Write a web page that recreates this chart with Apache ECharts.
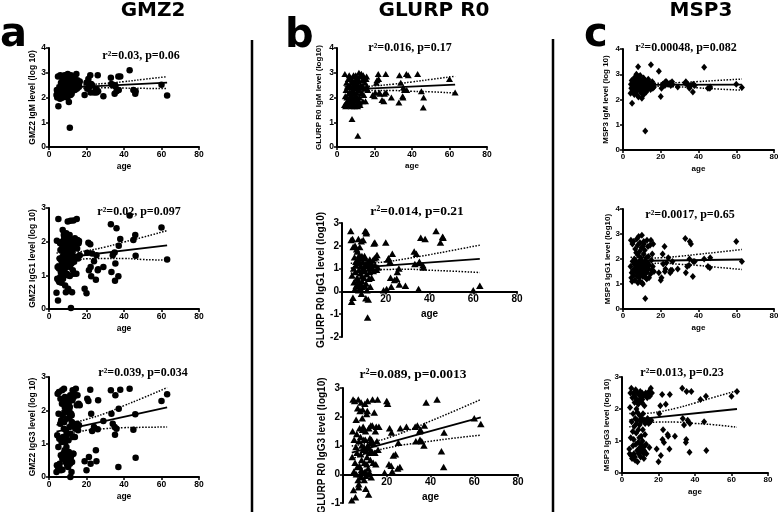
<!DOCTYPE html>
<html><head><meta charset="utf-8">
<script src="https://cdn.jsdelivr.net/npm/echarts@6.0.0/dist/echarts.min.js"></script>
<style>html,body{margin:0;padding:0;background:#fff}#c{width:778px;height:512px}</style>
</head><body><div id="c"></div>
<script>
// ---------------- data ----------------
const ages = [
  4,4.2,4.4,4.6,4.8,5,5.1,5.3,5.5,5.7,5.9,6,6.1,6.3,6.5,6.7,6.9,6.4,
  7,7.1,7.3,7.5,7.6,7.8,7.9,7.2, 8,8.1,8.3,8.4,8.6,8.8,8.2,8.5,8.9, 9,9.1,9.3,9.5,9.7,9.8,9.2,9.6,
  10,10.1,10.3,10.4,10.6,10.8,10.9,10.2,10.5, 11,11.2,11.3,11.5,11.7,11.8,11.4,11.1, 12,12.2,12.3,12.5,12.7,12.9,12.1,12.6,
  13,13.2,13.5,13.8,13.4,14,14.3,14.6,14.8,15,15.2,15.5,15.8,16,16.4,
  19,20,20.4,21,21.3,22,22.2,22.5,23,24,25,25.3,26,26.2,
  29,33,33.3,34,35,35.2,35.4,36,37,37.2,38,
  43,45,46,46.2,60,63
];
const gmz2IgM = [
  2.1,2.3,2.0,2.2,2.85,1.65,2.05,2.25,2.4,2.15,1.95,2.9,2.2,2.5,2.1,2.35,2.0,2.6,
  2.4,2.7,2.2,2.55,2.1,2.8,2.35,2.0,2.6,2.45,2.9,2.25,2.75,2.5,2.1,2.65,2.3,2.85,2.4,2.55,2.2,2.7,2.0,2.6,2.35,
  2.95,2.5,2.3,2.7,1.82,2.6,2.4,2.85,2.2,2.55,2.75,2.45,2.1,2.9,2.35,2.65,0.78,2.5,2.8,2.3,2.6,2.45,2.7,2.15,2.55,
  2.6,2.4,2.75,2.3,2.5,2.65,2.45,2.95,2.35,2.55,2.7,2.4,2.6,2.5,2.65,
  2.1,2.6,2.35,2.75,2.4,2.9,2.2,2.55,2.5,2.2,2.35,2.2,2.9,2.25,
  2.05,2.8,2.55,2.5,2.15,2.5,2.45,2.25,2.85,2.3,2.85,
  3.1,2.3,2.15,2.25,2.52,2.08
];
const gmz2IgG1 = [
  0.48,2.03,0.9,1.25,0.25,2.67,0.85,1.2,0.8,1.5,1.95,0.95,1.75,1.1,1.45,0.78,2.0,1.3,
  1.9,1.4,2.35,0.9,1.7,1.15,2.2,1.55,1.0,2.1,1.3,1.85,0.7,1.6,2.05,1.2,1.45,0.5,2.15,1.75,1.05,1.9,1.35,2.25,1.6,
  2.6,1.0,1.8,0.55,2.1,1.4,1.95,0.6,1.55,2.2,1.25,1.7,2.62,0.03,1.5,2.05,0.98,1.35,1.85,0.5,1.6,1.15,2.0,1.45,1.75,
  2.63,1.05,1.9,2.1,1.4,2.0,1.55,1.05,2.67,1.8,2.05,1.5,1.95,2.02,1.6,
  0.6,0.47,1.67,1.97,1.15,1.92,1.25,0.97,1.65,1.42,0.87,1.6,1.15,1.18,
  1.25,2.52,1.1,1.6,1.68,0.84,1.35,2.4,0.97,1.88,2.08,
  2.78,2.05,2.2,1.58,2.42,1.47
];
const gmz2IgG3 = [
  0.15,0.35,1.25,2.5,0.3,0.9,1.9,2.55,1.15,0.4,0.25,1.6,2.35,0.65,1.7,1.05,2.2,0.2,
  2.6,0.55,1.85,1.2,0.7,2.25,1.45,0.22,2.65,1.65,0.8,2.1,1.05,0.45,1.95,2.4,0.6,1.4,2.3,0.9,1.75,0.35,2.15,1.25,0.65,
  1.95,0.55,2.35,1.1,0.75,2.0,1.5,0.3,2.2,1.8,0.4,2.45,1.3,0.6,1.9,0.0,2.1,0.15,1.65,0.45,2.3,1.2,0.7,1.85,2.6,
  0.7,2.4,1.55,1.2,2.5,1.45,2.65,1.5,2.15,1.6,2.45,1.4,2.2,1.55,2.15,
  0.47,0.2,2.35,2.28,0.6,2.62,0.4,1.9,1.38,1.5,0.8,0.47,1.43,2.3,
  1.68,2.6,1.9,1.6,1.5,1.27,2.45,1.45,0.3,2.05,2.62,
  2.65,1.42,1.88,0.58,2.28,2.48
];
const glurpIgM = [
  1.7,2.95,2.05,1.65,2.3,1.8,2.6,2.0,1.7,2.45,1.9,2.75,2.15,1.75,2.9,2.2,1.85,2.5,
  2.4,1.9,2.8,2.1,1.65,2.6,2.25,1.95,1.13,2.7,2.0,2.45,1.8,2.9,2.3,1.7,2.55,2.15,2.85,1.65,2.4,2.0,2.7,2.2,1.9,
  2.9,2.1,2.55,1.75,2.35,2.8,1.95,2.6,2.2,1.65,2.75,2.45,1.85,3.0,2.3,2.65,0.45,2.0,2.85,1.7,2.5,2.15,2.95,1.8,2.4,
  2.95,2.2,2.7,1.85,2.5,2.9,2.1,2.8,2.35,2.6,1.85,2.75,2.85,2.45,2.3,
  2.1,2.05,2.2,2.6,2.7,2.95,2.75,2.2,2.15,1.9,1.85,2.15,2.95,2.2,
  2.0,1.8,2.9,2.6,2.05,2.0,2.4,2.3,2.95,2.3,2.9,
  2.95,2.25,1.6,2.0,2.75,2.2
];
const glurpIgG1 = [
  2.65,2.25,-0.45,0.7,2.3,-0.28,1.95,1.0,0.4,1.5,0.1,2.0,0.85,1.3,0.25,1.85,0.6,1.15,
  1.75,0.3,1.4,2.3,0.05,0.95,1.6,0.5,1.25,1.95,0.15,0.8,1.45,2.2,0.35,1.1,-0.1,0.65,1.55,0.2,1.3,2.25,0.9,0.45,1.0,
  1.0,0.6,1.55,0.25,2.65,1.2,-0.3,0.9,1.45,0.35,2.6,0.75,1.1,-1.15,1.3,0.05,2.55,-0.35,1.25,0.55,1.0,1.4,0.2,1.15,0.85,
  1.3,1.1,0.6,1.05,1.2,1.35,0.9,2.1,1.45,2.15,1.15,1.5,0.95,1.6,1.05,
  0.05,2.15,0.1,1.4,1.45,1.3,0.6,0.2,1.65,0.5,0.55,0.85,1.0,0.3,
  0.25,1.75,1.2,1.65,0.1,1.25,1.3,2.35,1.15,1.05,2.3,
  2.65,2.15,2.4,2.35,0.05,0.25
];
const glurpIgG3 = [
  -0.9,0.6,1.5,2.6,-0.55,0.1,1.2,2.55,0.4,-0.8,0.95,1.9,0.0,1.4,0.25,2.3,-0.2,0.75,
  2.6,-0.45,1.15,0.3,1.6,2.2,0.0,-0.35,1.3,0.7,2.5,0.15,1.0,1.95,-0.1,0.5,1.55,2.25,0.05,0.85,1.2,-0.2,0.4,1.65,0.95,
  2.45,0.1,1.5,-0.5,0.8,2.1,0.35,1.2,-0.05,0.6,2.55,1.0,0.2,-0.7,1.6,0.0,2.2,0.9,0.05,1.25,0.5,1.7,-0.1,0.75,1.1,
  1.2,0.8,2.6,0.4,1.7,1.05,2.15,0.75,1.5,0.35,1.65,1.15,2.6,0.85,1.65,
  0.05,2.55,2.45,0.35,1.6,0.3,1.45,0.1,0.65,0.7,0.2,1.1,0.25,1.6,
  1.65,1.65,1.15,1.7,1.5,1.2,1.55,1.15,1.0,1.7,2.5,
  2.6,0.8,0.25,1.45,1.95,1.75
];
const msp3IgM = [
  2.25,2.6,2.45,2.75,1.85,2.5,2.35,2.65,2.8,2.4,2.55,2.2,2.7,2.5,2.9,2.3,2.6,2.45,
  2.85,3.0,2.55,2.35,2.7,2.15,2.6,2.45,3.3,2.9,2.5,2.75,2.4,2.65,2.1,2.55,2.8,2.35,2.95,2.6,2.45,2.7,2.25,2.5,2.65,
  2.05,2.55,2.75,2.4,2.6,2.3,2.85,2.5,2.65,2.2,2.45,2.7,2.35,2.6,0.75,2.55,2.8,2.45,2.65,2.3,2.5,2.7,2.4,2.6,2.55,
  2.75,2.55,2.45,2.65,2.8,2.5,2.6,2.4,3.38,2.65,2.55,2.7,2.45,2.6,2.5,
  3.12,2.12,2.45,2.6,2.55,2.65,2.55,2.7,2.7,2.6,2.65,2.55,2.7,2.6,
  2.5,2.65,2.7,2.6,2.5,2.45,2.55,2.55,2.3,2.6,2.55,
  3.28,2.45,2.45,2.5,2.6,2.48
];
const msp3IgG1 = [
  1.7,2.75,1.25,1.45,1.1,2.6,1.9,1.55,2.7,1.35,1.8,2.0,1.6,1.15,2.4,1.75,1.5,1.95,
  2.25,1.5,2.8,1.3,1.85,2.55,1.05,1.7,2.15,1.4,2.9,1.6,1.25,2.3,1.75,1.9,1.45,2.65,1.1,1.8,2.05,1.55,2.45,1.35,1.95,
  2.95,1.05,1.65,2.5,1.3,1.85,2.2,1.5,1.0,2.7,1.75,1.4,2.35,1.6,0.42,1.9,2.6,1.25,1.7,2.05,1.45,2.75,1.55,1.8,1.2,
  1.85,2.5,1.6,1.25,2.1,1.75,2.55,1.4,2.75,1.95,1.55,2.2,1.7,2.6,1.5,
  1.45,1.15,1.25,2.2,1.8,2.5,1.5,1.6,1.85,2.05,1.45,1.55,1.55,1.9,
  1.6,2.82,1.45,1.7,1.75,2.0,2.7,2.6,1.3,1.9,1.9,
  2.0,1.7,1.65,2.05,2.7,1.9
];
const msp3IgG3 = [
  0.75,0.6,2.05,2.5,1.1,0.55,2.65,1.6,0.45,2.35,1.3,0.85,1.85,2.5,0.6,1.45,2.2,1.05,
  2.4,0.5,1.7,2.6,0.9,1.25,2.0,0.4,1.55,2.3,0.7,1.9,2.5,0.95,1.65,0.35,2.15,1.35,0.6,2.45,1.1,1.8,0.8,2.25,1.5,
  2.55,0.65,1.6,2.35,0.9,1.7,2.2,0.5,1.15,2.5,1.0,0.75,1.85,2.4,0.6,1.35,2.3,0.45,1.65,2.1,0.85,1.55,2.45,0.7,1.2,
  2.5,0.9,1.65,2.35,0.6,1.7,2.45,1.55,2.55,0.8,2.4,1.6,2.65,1.65,2.5,
  0.75,0.35,1.85,2.1,0.55,2.45,1.05,1.35,0.95,2.15,1.2,1.15,0.75,2.45,
  1.15,2.65,1.7,1.5,0.95,1.05,2.55,1.65,0.65,1.55,2.55,
  2.3,1.6,2.4,0.7,2.4,2.55
];

// regression lines (value at age 4 and age 63) and 95% bands
const fitAges = [4, 63];
const bandAges = [4, 10, 15, 20, 30, 40, 50, 63];
const fitA1 = [2.38, 2.60], upA1 = [2.50,2.48,2.48,2.51,2.57,2.64,2.73,2.84], loA1 = [2.26,2.32,2.35,2.37,2.39,2.38,2.37,2.36];
const fitA2 = [1.50, 1.89], upA2 = [1.66,1.67,1.69,1.73,1.84,1.99,2.13,2.33], loA2 = [1.34,1.41,1.45,1.49,1.50,1.50,1.47,1.45];
const fitA3 = [1.36, 2.09], upA3 = [1.57,1.60,1.66,1.73,1.91,2.14,2.37,2.68], loA3 = [1.15,1.26,1.34,1.40,1.45,1.48,1.49,1.50];
const fitB1 = [2.32, 2.52], upB1 = [2.44,2.44,2.45,2.47,2.54,2.63,2.73,2.86], loB1 = [2.20,2.24,2.27,2.28,2.28,2.25,2.23,2.18];
const fitB2 = [1.02, 1.43], upB2 = [1.24,1.24,1.26,1.30,1.44,1.61,1.79,2.03], loB2 = [0.80,0.88,0.94,0.96,0.97,0.93,0.89,0.83];
const fitB3 = [0.75, 1.98], upB3 = [0.98,1.06,1.15,1.25,1.53,1.85,2.17,2.60], loB3 = [0.53,0.70,0.82,0.91,1.05,1.15,1.25,1.36];
const fitC1 = [2.58, 2.59], upC1 = [2.66,2.65,2.645,2.65,2.67,2.71,2.755,2.81], loC1 = [2.50,2.52,2.525,2.52,2.50,2.46,2.415,2.37];
const fitC2 = [1.92, 1.98], upC2 = [2.07,2.05,2.04,2.05,2.11,2.19,2.27,2.38], loC2 = [1.78,1.81,1.82,1.83,1.79,1.74,1.67,1.58];
const fitC3 = [1.65, 2.00], upC3 = [1.86,1.86,1.87,1.91,2.03,2.19,2.36,2.57], loC3 = [1.44,1.52,1.57,1.59,1.59,1.55,1.51,1.43];

const columnTitles = ['GMZ2', 'GLURP R0', 'MSP3'];
const panelLetters = ['a', 'b', 'c'];
const yNames = [
  'GMZ2 IgM level (log 10)', 'GMZ2 IgG1 level (log 10)', 'GMZ2 IgG3 level (log 10)',
  'GLURP R0 IgM level (log10)', 'GLURP R0 IgG1 level (log10)', 'GLURP R0 IgG3 level (log10)',
  'MSP3 IgM level (log 10)', 'MSP3 IgG1 level (log10)', 'MSP3 IgG3 level (log 10)'
];
const notes = [
  'r\u00b2=0.03, p=0.06', 'r\u00b2=0.02, p=0.097', 'r\u00b2=0.039, p=0.034',
  'r\u00b2=0.016, p=0.17', 'r\u00b2=0.014, p=0.21', 'r\u00b2=0.089, p=0.0013',
  'r\u00b2=0.00048, p=0.082', 'r\u00b2=0.0017, p=0.65', 'r\u00b2=0.013, p=0.23'
];
const xName = 'age';

// ---------------- layout ----------------
const SANS = '"Liberation Sans", Arial, Helvetica, sans-serif';
const HEAVY = '"DejaVu Sans", "Liberation Sans", sans-serif';
const SERIF = '"Liberation Serif", "Times New Roman", serif';

const panels = [
  {vals: gmz2IgM, fit: fitA1, up: upA1, lo: loA1, yMin: 0, yMax: 4, sym: 'circle', size: 6.5,
   grid: {left: 49, top: 48, width: 150, height: 99}, fs: 8.5, nfs: 8.5, yGap: 12, xGap: 15, x0: true, note: [141, 56, 12]},
  {vals: gmz2IgG1, fit: fitA2, up: upA2, lo: loA2, yMin: 0, yMax: 3, sym: 'circle', size: 6.5,
   grid: {left: 49, top: 208, width: 150, height: 101}, fs: 8.5, nfs: 8.5, yGap: 12, xGap: 15, x0: true, note: [139, 212, 12]},
  {vals: gmz2IgG3, fit: fitA3, up: upA3, lo: loA3, yMin: 0, yMax: 3, sym: 'circle', size: 6.5,
   grid: {left: 49, top: 377, width: 150, height: 100}, fs: 8.5, nfs: 8.5, yGap: 12, xGap: 15, x0: true, note: [143, 373, 12]},
  {vals: glurpIgM, fit: fitB1, up: upB1, lo: loB1, yMin: 0, yMax: 4, sym: 'triangle', size: [7, 6],
   grid: {left: 337, top: 48, width: 150, height: 99}, fs: 8.5, nfs: 8, yGap: 14, xGap: 15, x0: true, note: [410, 48, 12]},
  {vals: glurpIgG1, fit: fitB2, up: upB2, lo: loB2, yMin: -2, yMax: 3, sym: 'triangle', size: [7.5, 6.5],
   grid: {left: 342, top: 223, width: 175, height: 114}, fs: 10, nfs: 10, yGap: 13, xGap: 18, x0: false, note: [417, 212, 13.5]},
  {vals: glurpIgG3, fit: fitB3, up: upB3, lo: loB3, yMin: -1, yMax: 3, sym: 'triangle', size: [7.5, 6.5],
   grid: {left: 343, top: 388, width: 175, height: 115}, fs: 10, nfs: 10, yGap: 11, xGap: 18, x0: false, note: [413, 375, 13.5]},
  {vals: msp3IgM, fit: fitC1, up: upC1, lo: loC1, yMin: 0, yMax: 4, sym: 'diamond', size: [6, 7],
   grid: {left: 623, top: 49, width: 151, height: 101}, fs: 8, nfs: 8, yGap: 13, xGap: 15, x0: true, note: [686, 48, 12]},
  {vals: msp3IgG1, fit: fitC2, up: upC2, lo: loC2, yMin: 0, yMax: 4, sym: 'diamond', size: [6, 7],
   grid: {left: 623, top: 209, width: 151, height: 100}, fs: 8, nfs: 8, yGap: 11, xGap: 15, x0: true, note: [690, 215, 12]},
  {vals: msp3IgG3, fit: fitC3, up: upC3, lo: loC3, yMin: 0, yMax: 3, sym: 'diamond', size: [6, 7],
   grid: {left: 622, top: 377, width: 146, height: 96}, fs: 8, nfs: 8, yGap: 10, xGap: 15, x0: true, note: [682, 373, 12]}
];

const grids = [], xAxes = [], yAxes = [], series = [], graphics = [];
const axisText = (fs) => ({fontFamily: SANS, fontWeight: 'bold', fontSize: fs, color: '#000'});

panels.forEach((p, i) => {
  grids.push(Object.assign({containLabel: false, outerBoundsMode: 'none'}, p.grid));
  // x axis crosses the y axis at value 0: shift the whole axis (line, ticks, labels, name) up
  const zeroShift = p.yMin < 0 ? p.grid.height * (0 - p.yMin) / (p.yMax - p.yMin) : 0;
  xAxes.push({
    gridIndex: i, type: 'value', min: 0, max: 80, interval: 20, position: 'bottom', offset: -zeroShift,
    name: xName, nameLocation: 'middle', nameGap: p.xGap, nameTextStyle: axisText(p.nfs),
    axisLine: {show: true, onZero: false, lineStyle: {color: '#000', width: 2}},
    axisTick: {show: true, length: 3, lineStyle: {color: '#000', width: 1.5}},
    axisLabel: Object.assign({margin: 3, showMinLabel: p.x0, showMaxLabel: true}, axisText(p.fs)),
    splitLine: {show: false}
  });
  yAxes.push({
    gridIndex: i, type: 'value', min: p.yMin, max: p.yMax, interval: 1,
    name: yNames[i], nameLocation: 'middle', nameGap: p.yGap, nameTextStyle: axisText(p.nfs),
    axisLine: {show: true, onZero: false, lineStyle: {color: '#000', width: 2}},
    axisTick: {show: true, length: 3, lineStyle: {color: '#000', width: 1.5}},
    axisLabel: Object.assign({margin: 3, showMinLabel: true, showMaxLabel: true}, axisText(p.fs)),
    splitLine: {show: false}
  });
  series.push({
    type: 'scatter', xAxisIndex: i, yAxisIndex: i, symbol: p.sym, symbolSize: p.size,
    itemStyle: {color: '#000', opacity: 1}, z: 3,
    data: ages.map((a, j) => [a, p.vals[j]])
  });
  series.push({
    type: 'line', xAxisIndex: i, yAxisIndex: i, symbol: 'none', z: 4,
    lineStyle: {color: '#000', width: 1.8, type: 'solid'},
    data: fitAges.map((a, j) => [a, p.fit[j]])
  });
  [p.up, p.lo].forEach(band => series.push({
    type: 'line', xAxisIndex: i, yAxisIndex: i, symbol: 'none', smooth: true, z: 4,
    lineStyle: {color: '#000', width: 1.5, type: 'dotted'},
    data: bandAges.map((a, j) => [a, band[j]])
  }));
  graphics.push({
    type: 'text', x: p.note[0], y: p.note[1], z: 10,
    style: {text: notes[i], fontFamily: SERIF, fontWeight: 'bold', fontSize: p.note[2], fill: '#000',
            textAlign: 'center', textVerticalAlign: 'middle', align: 'center', verticalAlign: 'middle'}
  });
});

// column titles and panel letters
const titlePos = [[153, 10.5], [434, 10.5], [701, 10.5]];
columnTitles.forEach((t, k) => graphics.push({
  type: 'text', x: titlePos[k][0], y: titlePos[k][1],
  style: {text: t, fontFamily: HEAVY, fontWeight: 'bold', fontSize: 20, fill: '#000',
          textAlign: 'center', textVerticalAlign: 'middle', align: 'center', verticalAlign: 'middle'}
}));
const letterPos = [[0, 36], [285, 37], [584, 36]];
panelLetters.forEach((t, k) => graphics.push({
  type: 'text', x: letterPos[k][0], y: letterPos[k][1],
  style: {text: t, fontFamily: HEAVY, fontWeight: 'bold', fontSize: 40, fill: '#000',
          textAlign: 'left', textVerticalAlign: 'middle', align: 'left', verticalAlign: 'middle'}
}));
// column separators
[[252, 40], [553, 39]].forEach(s => graphics.push({
  type: 'line', shape: {x1: s[0], y1: s[1], x2: s[0], y2: 512},
  style: {stroke: '#000', lineWidth: 2.5}
}));

const chart = echarts.init(document.getElementById('c'), null, {renderer: 'canvas'});
chart.setOption({
  backgroundColor: '#fff',
  animation: false,
  grid: grids, xAxis: xAxes, yAxis: yAxes, series: series, graphic: graphics
});
</script>
</body></html>
